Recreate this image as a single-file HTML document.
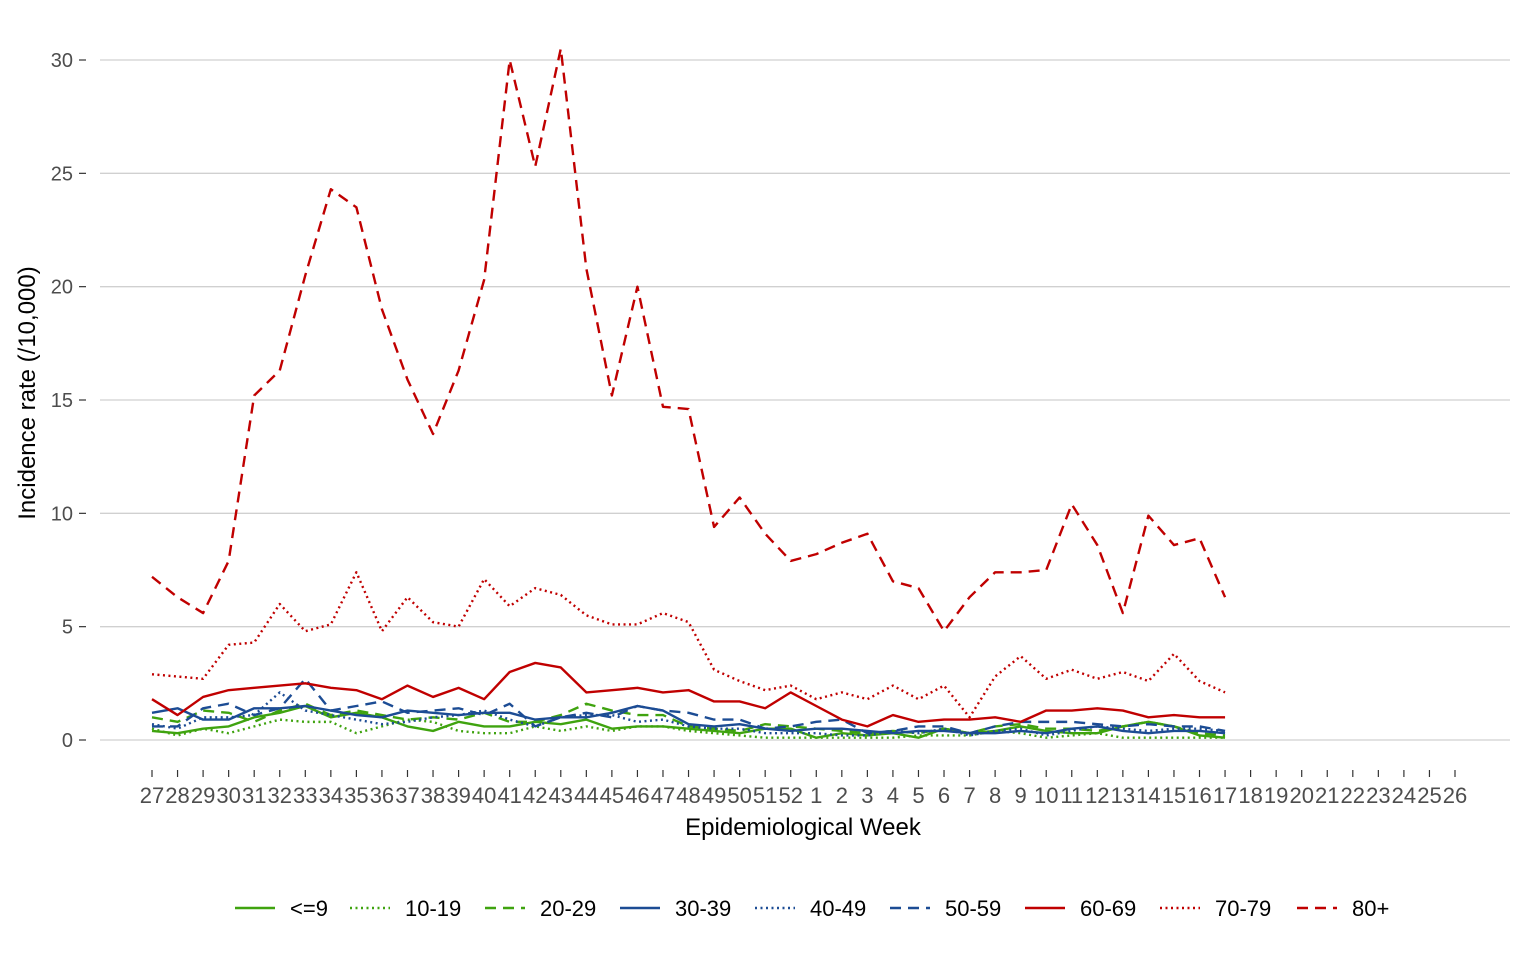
<!DOCTYPE html>
<html><head><meta charset="utf-8"><style>
body{margin:0;background:#fff;}
svg text{font-family:"Liberation Sans",sans-serif;}
</style></head><body>
<svg id="chart" width="1536" height="960" xmlns="http://www.w3.org/2000/svg">
<g id="grid"></g><g id="axes"></g><g id="series"></g><g id="legend"></g>
<text x="803" y="835" font-size="24" text-anchor="middle" fill="#000">Epidemiological Week</text>
<text transform="translate(35,393) rotate(-90)" font-size="24" text-anchor="middle" fill="#000">Incidence rate (/10,000)</text>
</svg>
<script>
const weeks=[27,28,29,30,31,32,33,34,35,36,37,38,39,40,41,42,43,44,45,46,47,48,49,50,51,52,1,2,3,4,5,6,7,8,9,10,11,12,13,14,15,16,17,18,19,20,21,22,23,24,25,26];
const yTicks=[0,5,10,15,20,25,30];
const seriesNames=["<=9","10-19","20-29","30-39","40-49","50-59","60-69","70-79","80+"];
const s0=[0.4,0.3,0.5,0.6,1.0,1.2,1.5,1.0,1.2,1.0,0.6,0.4,0.8,0.6,0.6,0.8,0.7,0.9,0.5,0.6,0.6,0.5,0.4,0.3,0.5,0.5,0.1,0.3,0.2,0.3,0.1,0.5,0.3,0.4,0.6,0.4,0.3,0.3,0.6,0.8,0.6,0.2,0.1];
const s1=[0.5,0.2,0.5,0.3,0.6,0.9,0.8,0.8,0.3,0.6,0.9,0.8,0.4,0.3,0.3,0.6,0.4,0.6,0.4,0.6,0.6,0.4,0.3,0.2,0.1,0.1,0.1,0.1,0.1,0.1,0.2,0.2,0.2,0.4,0.3,0.1,0.2,0.3,0.1,0.1,0.1,0.1,0.1];
const s2=[1.0,0.8,1.3,1.2,0.8,1.3,1.6,1.1,1.3,1.1,0.9,1.0,0.9,1.2,0.8,0.8,1.1,1.6,1.3,1.1,1.1,0.6,0.5,0.4,0.7,0.6,0.5,0.4,0.3,0.4,0.3,0.5,0.3,0.6,0.7,0.5,0.5,0.4,0.6,0.8,0.6,0.3,0.2];
const s3=[1.2,1.4,0.9,0.9,1.4,1.4,1.5,1.3,1.1,1.0,1.3,1.2,1.1,1.2,1.2,0.9,1.0,1.0,1.2,1.5,1.3,0.7,0.6,0.7,0.5,0.4,0.5,0.5,0.4,0.3,0.4,0.4,0.3,0.3,0.4,0.3,0.5,0.6,0.4,0.3,0.4,0.4,0.3];
const s4=[0.7,0.5,1.0,1.0,1.1,2.1,1.3,1.1,0.9,0.7,0.8,1.0,1.1,1.3,0.9,0.6,1.0,1.1,1.1,0.8,0.9,0.6,0.5,0.5,0.3,0.3,0.3,0.2,0.2,0.4,0.3,0.5,0.2,0.4,0.5,0.2,0.4,0.6,0.5,0.4,0.5,0.5,0.4];
const s5=[0.6,0.6,1.4,1.6,1.1,1.4,2.7,1.3,1.5,1.7,1.2,1.3,1.4,1.1,1.6,0.6,1.0,1.2,1.0,1.5,1.3,1.2,0.9,0.9,0.5,0.6,0.8,0.9,0.3,0.4,0.6,0.6,0.3,0.6,0.8,0.8,0.8,0.7,0.6,0.7,0.6,0.6,0.4];
const s6=[1.8,1.1,1.9,2.2,2.3,2.4,2.5,2.3,2.2,1.8,2.4,1.9,2.3,1.8,3.0,3.4,3.2,2.1,2.2,2.3,2.1,2.2,1.7,1.7,1.4,2.1,1.5,0.9,0.6,1.1,0.8,0.9,0.9,1.0,0.8,1.3,1.3,1.4,1.3,1.0,1.1,1.0,1.0];
const s7=[2.9,2.8,2.7,4.2,4.3,6.0,4.8,5.1,7.4,4.8,6.3,5.2,5.0,7.1,5.9,6.7,6.4,5.5,5.1,5.1,5.6,5.2,3.1,2.6,2.2,2.4,1.8,2.1,1.8,2.4,1.8,2.4,1.0,2.8,3.7,2.7,3.1,2.7,3.0,2.6,3.8,2.6,2.1];
const s8=[7.2,6.3,5.6,7.9,15.2,16.3,20.5,24.3,23.5,19.0,15.9,13.5,16.3,20.3,30.0,25.3,30.5,20.8,15.2,20.0,14.7,14.6,9.4,10.7,9.1,7.9,8.2,8.7,9.1,7.0,6.7,4.8,6.3,7.4,7.4,7.5,10.4,8.6,5.6,9.9,8.6,8.9,6.3];
const allSeries=[s0,s1,s2,s3,s4,s5,s6,s7,s8];
const G="#3fa30f",B="#1c4c94",R="#c00000";
const colors=[G,G,G,B,B,B,R,R,R];
const dashes=["","2,3.5","11,7","","2,3.5","11,7","","2,3.5","11,7"];
const NS="http://www.w3.org/2000/svg";
const x=i=>152+i*(1455-152)/51;
const y=v=>740-v*(680/30);
function mk(tag,attrs,parent){const e=document.createElementNS(NS,tag);for(const k in attrs)e.setAttribute(k,attrs[k]);parent.appendChild(e);return e;}
const grid=document.getElementById('grid'),axes=document.getElementById('axes'),ser=document.getElementById('series'),leg=document.getElementById('legend');
yTicks.forEach(t=>{
 const l=mk('line',{x1:100,x2:1510,y1:y(t),y2:y(t),stroke:"#d0d0d0","stroke-width":1.3},grid);
 
 
 const tk=mk('line',{x1:79,x2:86,y1:y(t),y2:y(t),stroke:"#333","stroke-width":1.2},axes);
 
 
 const tx=mk('text',{x:73,y:y(t)+7,"font-size":20,"text-anchor":"end",fill:"#4d4d4d"},axes);
 tx.textContent=t;
 
 
});
weeks.forEach((w,i)=>{
 const tk=mk('line',{x1:x(i),x2:x(i),y1:770,y2:777,stroke:"#333","stroke-width":1.2},axes);
 
 
 const tx=mk('text',{x:x(i),y:803,"font-size":22,"text-anchor":"middle",fill:"#4d4d4d"},axes);
 tx.textContent=w;
 
 
});
allSeries.forEach((s,k)=>{
 const p=mk('polyline',{points:s.map((v,i)=>x(i)+","+y(v)).join(" "),fill:"none",stroke:colors[k],"stroke-width":2.4,"stroke-dasharray":dashes[k],"stroke-linejoin":"round"},ser);
 
 
});
const lx=[235,350,485,620,755,890,1025,1160,1297];
seriesNames.forEach((n,k)=>{
 const l=mk('line',{x1:lx[k],x2:lx[k]+40,y1:908,y2:908,stroke:colors[k],"stroke-width":2.4,"stroke-dasharray":dashes[k]},leg);
 
 
 const t=mk('text',{x:lx[k]+55,y:916,"font-size":22,fill:"#000"},leg);
 t.textContent=n;
 
 
});
</script>
</body></html>
